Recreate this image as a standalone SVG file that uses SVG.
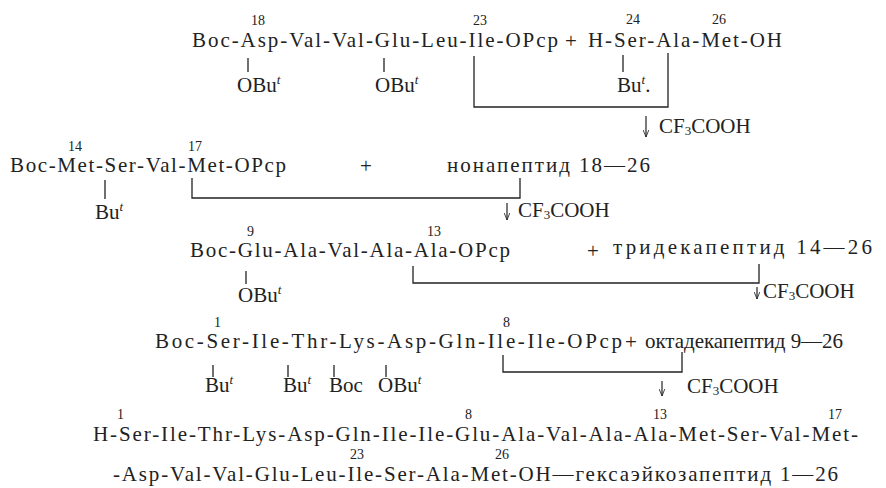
<svg xmlns="http://www.w3.org/2000/svg" width="886" height="488" viewBox="0 0 886 488">
<defs>
<marker id="ah" viewBox="0 0 10 8" refX="10" refY="4" markerWidth="7" markerHeight="6" orient="auto" markerUnits="userSpaceOnUse">
<path d="M0,0 L10,4 L0,8" fill="none" stroke="#222" stroke-width="1.2"/>
</marker>
<style>
text{font-family:"Liberation Serif","DejaVu Serif",serif;fill:#222;font-size:21px}
.n{font-size:14px}
.s{font-size:13px;font-style:italic}
.sub{font-size:13px}
.br{fill:none;stroke:#222;stroke-width:1.3}
.ar{stroke:#222;stroke-width:1.2;marker-end:url(#ah)}
</style>
</defs>
<rect width="886" height="488" fill="#fff"/>

<g id="step1">
<text x="192" y="47" textLength="366" lengthAdjust="spacing">Boc-Asp-Val-Val-Glu-Leu-Ile-OPcp</text>
<text x="565" y="48">+</text>
<text x="588" y="47" textLength="194" lengthAdjust="spacing">H-Ser-Ala-Met-OH</text>
<text class="n" x="251" y="25">18</text>
<text class="n" x="473" y="25">23</text>
<text class="n" x="626" y="24">24</text>
<text class="n" x="712" y="24">26</text>
<text x="237" y="92">OBu<tspan class="s" dy="-8">t</tspan></text>
<text x="375" y="92">OBu<tspan class="s" dy="-8">t</tspan></text>
<text x="617" y="92">Bu<tspan class="s" dy="-8">t</tspan><tspan dy="8">.</tspan></text>
<text x="659" y="133">CF<tspan class="sub" dy="2">3</tspan><tspan dy="-2">COOH</tspan></text>
</g>

<g id="step2">
<text x="10" y="172" textLength="276" lengthAdjust="spacing">Boc-Met-Ser-Val-Met-OPcp</text>
<text x="360" y="173">+</text>
<text x="447" y="172" textLength="203" lengthAdjust="spacing">нонапептид 18—26</text>
<text class="n" x="68" y="151">14</text>
<text class="n" x="188" y="151">17</text>
<text x="95" y="219">Bu<tspan class="s" dy="-8">t</tspan></text>
<text x="518" y="217">CF<tspan class="sub" dy="2">3</tspan><tspan dy="-2">COOH</tspan></text>
</g>

<g id="step3">
<text x="190" y="257" textLength="320" lengthAdjust="spacing">Boc-Glu-Ala-Val-Ala-Ala-OPcp</text>
<text x="587" y="258">+</text>
<text x="613" y="254" textLength="259" lengthAdjust="spacing">тридекапептид 14—26</text>
<text class="n" x="247" y="236">9</text>
<text class="n" x="427" y="236">13</text>
<text x="238" y="302">OBu<tspan class="s" dy="-8">t</tspan></text>
<text x="763" y="298">CF<tspan class="sub" dy="2">3</tspan><tspan dy="-2">COOH</tspan></text>
</g>

<g id="step4">
<text x="155" y="348" textLength="467" lengthAdjust="spacing">Boc-Ser-Ile-Thr-Lys-Asp-Gln-Ile-Ile-OPcp</text>
<text x="625" y="349">+</text>
<text x="645" y="348" textLength="198" lengthAdjust="spacing">октадекапептид 9—26</text>
<text class="n" x="214" y="327">1</text>
<text class="n" x="503" y="327">8</text>
<text x="205" y="392">Bu<tspan class="s" dy="-8">t</tspan></text>
<text x="283" y="392">Bu<tspan class="s" dy="-8">t</tspan></text>
<text x="329" y="392">Boc</text>
<text x="378" y="392">OBu<tspan class="s" dy="-8">t</tspan></text>
<text x="687" y="393">CF<tspan class="sub" dy="2">3</tspan><tspan dy="-2">COOH</tspan></text>
</g>

<g id="product">
<text x="93" y="441" textLength="765" lengthAdjust="spacing">H-Ser-Ile-Thr-Lys-Asp-Gln-Ile-Ile-Glu-Ala-Val-Ala-Ala-Met-Ser-Val-Met-</text>
<text x="113" y="481" textLength="725" lengthAdjust="spacing">-Asp-Val-Val-Glu-Leu-Ile-Ser-Ala-Met-OH—гексаэйкозапептид 1—26</text>
<text class="n" x="117" y="419">1</text>
<text class="n" x="465" y="419">8</text>
<text class="n" x="653" y="419">13</text>
<text class="n" x="828" y="419">17</text>
<text class="n" x="350" y="459">23</text>
<text class="n" x="495" y="459">26</text>
</g>

<g id="connectors">
<line class="br" x1="248" y1="58" x2="248" y2="72"/>
<line class="br" x1="384" y1="58" x2="384" y2="72"/>
<line class="br" x1="623" y1="55" x2="623" y2="72"/>
<path class="br" d="M474,56 V107 H668 V53"/>
<line class="ar" x1="646" y1="116" x2="646" y2="137"/>

<line class="br" x1="105" y1="180" x2="105" y2="199"/>
<path class="br" d="M192,178 V198 H520 V178"/>
<line class="ar" x1="507" y1="203" x2="507" y2="220"/>

<line class="br" x1="246" y1="271" x2="246" y2="284"/>
<path class="br" d="M413,266 V283 H759 V264"/>
<line class="ar" x1="757" y1="287" x2="757" y2="299"/>

<line class="br" x1="213" y1="365" x2="213" y2="377"/>
<line class="br" x1="288" y1="365" x2="288" y2="377"/>
<line class="br" x1="334" y1="365" x2="334" y2="377"/>
<line class="br" x1="386" y1="365" x2="386" y2="377"/>
<path class="br" d="M503,355 V372 H682 V352"/>
<line class="ar" x1="662" y1="381" x2="662" y2="396"/>
</g>
</svg>
